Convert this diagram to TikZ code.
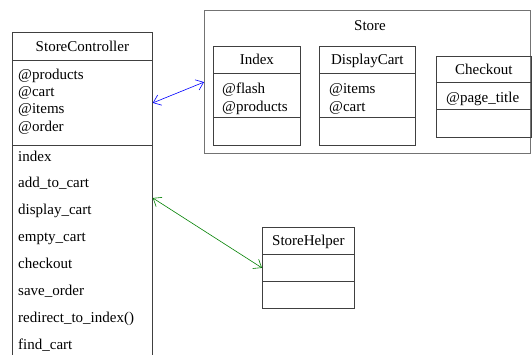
\documentclass[tikz,border=0pt]{standalone}
\usepackage{fontspec}
\setmainfont{Liberation Serif}
\usetikzlibrary{arrows.meta}
\tikzset{
  fach/.style={draw=black!75, line width=0.8pt, rectangle, inner sep=0pt, anchor=north west},
  schrift/.style={font=\fontsize{15}{17}\selectfont, inner sep=0pt, text height=12pt, text depth=2pt},
  eintrag/.style={schrift, anchor=west},
  pfeil/.style={{Straight Barb[length=7pt,width=11pt]}-{Straight Barb[length=7pt,width=11pt]}, line width=0.6pt},
}
\begin{document}
\begin{tikzpicture}[x=1pt,y=-1pt]
  \useasboundingbox (0,0) rectangle (532,354);
  % StoreController
  \node[fach, minimum width=140pt, minimum height=28pt] (ctrlkopf) at (12,32) {};
  \node[fach, minimum width=140pt, minimum height=85pt] (ctrlattr) at (12,60) {};
  \node[fach, minimum width=140pt, minimum height=220pt] (ctrlmeth) at (12,145) {};
  \node[schrift] (ctrltitel) at (ctrlkopf) {StoreController};
  \node[eintrag] (ctrla1) at (18,74) {@products};
  \node[eintrag] (ctrla2) at (18,91) {@cart};
  \node[eintrag] (ctrla3) at (18,108) {@items};
  \node[eintrag] (ctrla4) at (18,126) {@order};
  \node[eintrag] (ctrlm1) at (18,156) {index};
  \node[eintrag] (ctrlm2) at (18,182) {add\_to\_cart};
  \node[eintrag] (ctrlm3) at (18,209) {display\_cart};
  \node[eintrag] (ctrlm4) at (18,236) {empty\_cart};
  \node[eintrag] (ctrlm5) at (18,263) {checkout};
  \node[eintrag] (ctrlm6) at (18,290) {save\_order};
  \node[eintrag] (ctrlm7) at (18,317) {redirect\_to\_index()};
  \node[eintrag] (ctrlm8) at (18,344) {find\_cart};
  % Store
  \node[fach, draw=black!55, line width=1.2pt, minimum width=326pt, minimum height=143pt] (store) at (204,10) {};
  \node[schrift] (storetitel) at (370,25) {Store};
  % Index
  \node[fach, minimum width=87pt, minimum height=27pt] (idxkopf) at (213,46) {};
  \node[fach, minimum width=87pt, minimum height=44pt] (idxattr) at (213,73) {};
  \node[fach, minimum width=87pt, minimum height=28pt] (idxmeth) at (213,117) {};
  \node[schrift] (idxtitel) at (idxkopf) {Index};
  \node[eintrag] (idxa1) at (222,88) {@flash};
  \node[eintrag] (idxa2) at (222,106) {@products};
  % DisplayCart
  \node[fach, minimum width=96pt, minimum height=27pt] (dispkopf) at (319,46) {};
  \node[fach, minimum width=96pt, minimum height=44pt] (dispattr) at (319,73) {};
  \node[fach, minimum width=96pt, minimum height=28pt] (dispmeth) at (319,117) {};
  \node[schrift] (disptitel) at (dispkopf) {DisplayCart};
  \node[eintrag] (dispa1) at (329,88) {@items};
  \node[eintrag] (dispa2) at (329,106) {@cart};
  % Checkout
  \node[fach, minimum width=95pt, minimum height=26pt] (chkkopf) at (436,56) {};
  \node[fach, minimum width=95pt, minimum height=27pt] (chkattr) at (436,82) {};
  \node[fach, minimum width=95pt, minimum height=28pt] (chkmeth) at (436,109) {};
  \node[schrift] (chktitel) at (chkkopf) {Checkout};
  \node[eintrag] (chka1) at (446,97) {@page\_title};
  % StoreHelper
  \node[fach, minimum width=92pt, minimum height=27pt] (helpkopf) at (262,227) {};
  \node[fach, minimum width=92pt, minimum height=27pt] (helpattr) at (262,254) {};
  \node[fach, minimum width=92pt, minimum height=27pt] (helpmeth) at (262,281) {};
  \node[schrift] (helptitel) at (helpkopf) {StoreHelper};
  % Pfeile
  \draw[pfeil, blue] (ctrlattr.east) -- (store.west);
  \draw[pfeil, green!50!black] ([yshift=-53pt]ctrlmeth.north east) -- (helpattr.west);
\end{tikzpicture}
\end{document}
